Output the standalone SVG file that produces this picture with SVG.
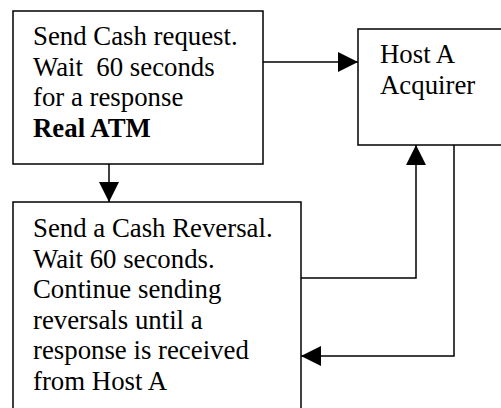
<svg xmlns="http://www.w3.org/2000/svg" width="501" height="408" viewBox="0 0 501 408">
<style>
.box{fill:#fff;stroke:#000;stroke-width:1.5}
.t{font-family:"Liberation Serif","Times New Roman",serif;font-size:26.8px;fill:#000}
.b{font-weight:bold}
.c{fill:none;stroke:#000;stroke-width:1.5}
</style>
<defs>
<marker id="ah" viewBox="0 0 20 20" refX="20" refY="10" markerWidth="20" markerHeight="20" markerUnits="userSpaceOnUse" orient="auto">
<path d="M0,0 L20,10 L0,20 Z" fill="#000"/>
</marker>
</defs>
<rect width="501" height="408" fill="#fff"/>
<g id="real-atm">
<rect class="box" x="13" y="11" width="250" height="153"/>
<text class="t" x="33" y="45">Send Cash request.</text>
<text class="t" x="33" y="75.5" xml:space="preserve">Wait  60 seconds</text>
<text class="t" x="33" y="106">for a response</text>
<text class="t b" x="33" y="136.5">Real ATM</text>
</g>
<g id="host-a">
<rect class="box" x="358" y="29" width="170" height="116"/>
<text class="t" x="380" y="63">Host A</text>
<text class="t" x="380" y="93.5">Acquirer</text>
</g>
<g id="reversal">
<rect class="box" x="13" y="202" width="288" height="220"/>
<text class="t" x="33" y="237">Send a Cash Reversal.</text>
<text class="t" x="33" y="267.5">Wait 60 seconds.</text>
<text class="t" x="33" y="298">Continue sending</text>
<text class="t" x="33" y="328.5">reversals until a</text>
<text class="t" x="33" y="359">response is received</text>
<text class="t" x="33" y="389.5">from Host A</text>
</g>
<g id="connectors">
<path class="c" d="M263,62 H358" marker-end="url(#ah)"/>
<path class="c" d="M109,164 V202" marker-end="url(#ah)"/>
<path class="c" d="M301,278 H416 V145" marker-end="url(#ah)"/>
<path class="c" d="M454,145 V356 H301" marker-end="url(#ah)"/>
</g>
</svg>
